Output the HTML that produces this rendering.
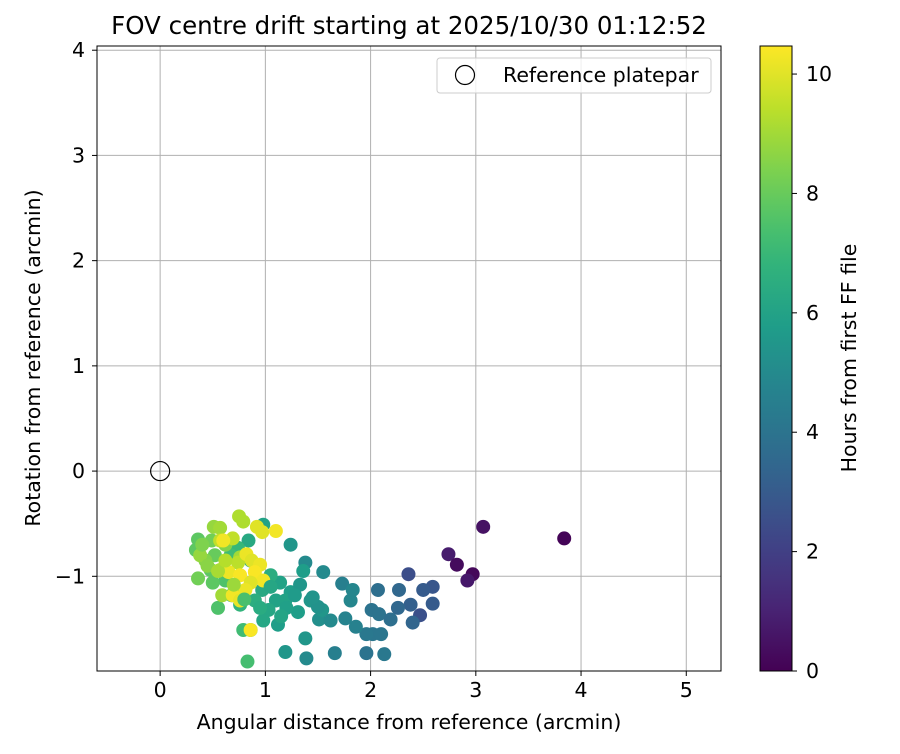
<!DOCTYPE html>
<html><head><meta charset="utf-8"><style>
body{margin:0;background:#fff;font-family:"DejaVu Sans","Liberation Sans",sans-serif}
</style></head><body>
<svg id="c" width="900" height="750" xmlns="http://www.w3.org/2000/svg" font-family="DejaVu Sans, Liberation Sans, sans-serif"></svg>
<script>
const xs=[3.84,3.07,2.74,2.82,2.97,2.92,2.36,2.59,2.50,2.27,2.07,2.59,2.38,2.47,2.26,2.01,2.08,2.19,2.40,2.02,1.96,2.10,1.96,2.13,1.86,1.76,1.81,1.73,1.83,1.66,1.39,1.19,1.38,1.51,1.55,1.24,1.38,1.36,1.54,1.62,1.43,1.50,1.31,1.24,1.14,1.10,1.03,1.19,0.97,1.12,1.33,0.98,1.05,0.90,0.98,0.79,0.86,0.83,0.76,0.86,0.84,0.74,0.67,0.62,0.68,0.55,0.50,0.48,0.36,0.34,0.36,0.52,0.43,0.38,0.49,0.62,0.51,0.57,0.75,0.79,0.57,0.59,0.71,0.76,0.69,0.74,0.57,0.92,0.97,1.10,0.60,0.82,0.87,0.95,0.90,0.98,0.65,0.76,0.69,0.76,0.86,0.86,0.81,1.20,1.28,1.45,1.05,0.95,1.15,0.45,0.40,0.55,0.62,0.70,0.80];
const ys=[-0.64,-0.53,-0.79,-0.89,-0.98,-1.04,-0.98,-1.10,-1.13,-1.13,-1.13,-1.26,-1.27,-1.37,-1.30,-1.32,-1.36,-1.41,-1.44,-1.55,-1.55,-1.55,-1.73,-1.74,-1.48,-1.40,-1.23,-1.07,-1.13,-1.73,-1.78,-1.72,-1.59,-1.41,-0.96,-0.70,-0.87,-0.95,-1.32,-1.42,-1.23,-1.29,-1.34,-1.15,-1.06,-1.23,-1.32,-1.23,-1.13,-1.46,-1.08,-0.51,-0.99,-1.23,-1.42,-1.51,-1.51,-1.81,-1.27,-0.85,-0.66,-0.73,-0.80,-1.04,-1.18,-1.30,-1.06,-0.94,-0.65,-0.75,-1.02,-0.80,-0.85,-0.80,-0.66,-0.70,-0.53,-0.54,-0.43,-0.48,-0.94,-1.18,-1.13,-0.82,-0.64,-0.87,-0.66,-0.53,-0.58,-0.57,-0.66,-0.79,-0.85,-0.89,-0.96,-1.04,-0.96,-0.99,-1.18,-1.23,-1.06,-1.51,-1.13,-1.30,-1.18,-1.20,-1.10,-1.30,-1.38,-0.90,-0.70,-0.95,-0.85,-1.08,-1.22];
const hours=[0.1,0.5,0.8,0.3,0.2,0.7,2.5,2.8,3,3.5,3.8,3,3.2,2.6,3.5,4,4,3.8,3.4,4.1,4.2,4.1,4,4.2,4.6,4.7,4.8,4.5,4.8,4.5,5,5.5,5.5,5.2,5,5.5,5,5.8,5.5,5,5.5,5.3,5.8,5.8,6,6,6.2,6,6.3,5.8,5.5,6,6.5,6.5,6.2,7.2,6.8,7.3,6.8,6.5,6.3,7,7.2,7.5,7,7.5,7.8,7.8,7.8,7.8,8.2,8,8.5,8.8,8.2,8.5,8.8,9,9.2,9.2,9,9,8.8,9,9.5,9.4,9.5,10,10,10.3,10.3,10.2,10,10.2,10.4,10.3,10.2,10.4,10.3,10.1,10,10.4,10.2,5.9,5.7,5.4,6.2,6.4,6.1,8.6,8.4,9.1,9.3,8.9,7.4];
const xTicks=[0,1,2,3,4,5], yTicks=[-1,0,1,2,3,4], cTicks=[0,2,4,6,8,10];
const L=97,R=721,T=46,B=671,X0=-0.6,X1=5.33,Y0=-1.9,Y1=4.04,C1=10.47;
const sx=v=>L+(v-X0)/(X1-X0)*(R-L), sy=v=>B-(v-Y0)/(Y1-Y0)*(B-T), sc=v=>B-v/C1*(B-T);
const V=[[68,1,84],[72,40,120],[62,73,137],[49,104,142],[38,130,142],[31,158,137],[53,183,121],[110,206,88],[181,222,43],[253,231,37]];
function vir(t){t=Math.max(0,Math.min(1,t))*9;const i=Math.min(8,Math.floor(t)),f=t-i;return 'rgb('+V[i].map((c,k)=>Math.round(c+(V[i+1][k]-c)*f)).join(',')+')';}
const svg=document.getElementById('c'),NS='http://www.w3.org/2000/svg';
function el(tag,at,txt){const e=document.createElementNS(NS,tag);for(const k in at)e.setAttribute(k,at[k]);if(txt!==undefined)e.textContent=txt;svg.appendChild(e);return e;}
const FS=20.5;
let e;
e=el('rect',{x:L,y:T,width:R-L,height:B-T,fill:'#fff'});

xTicks.forEach(t=>{const x=sx(t);
e=el('line',{x1:x,x2:x,y1:T,y2:B,stroke:'#b0b0b0','stroke-width':1});
e=el('line',{x1:x,x2:x,y1:B,y2:B+5,stroke:'#000'});
e=el('text',{x:x,y:B+26,'font-size':FS,'text-anchor':'middle'},String(t));});
yTicks.forEach(t=>{const y=sy(t);
e=el('line',{x1:L,x2:R,y1:y,y2:y,stroke:'#b0b0b0','stroke-width':1});
e=el('line',{x1:L-5,x2:L,y1:y,y2:y,stroke:'#000'});
e=el('text',{x:L-12,y:y+7,'font-size':FS,'text-anchor':'end'},t<0?'\u2212'+(-t):String(t));});
xs.forEach((v,i)=>{e=el('circle',{cx:sx(v),cy:sy(ys[i]),r:7,fill:vir(hours[i]/C1)});});
e=el('circle',{cx:sx(0),cy:sy(0),r:9.5,fill:'none',stroke:'#000','stroke-width':1.2});
e=el('rect',{x:L,y:T,width:R-L,height:B-T,fill:'none',stroke:'#000','stroke-width':1});
e=el('rect',{x:437,y:58,width:274,height:35,rx:3,fill:'#fff','fill-opacity':0.8,stroke:'#ccc'});
e=el('circle',{cx:465,cy:75,r:9.5,fill:'none',stroke:'#000','stroke-width':1.2});
e=el('text',{x:503,y:82,'font-size':FS},'Reference platepar');
e=el('text',{x:409,y:34,'font-size':24.5,'text-anchor':'middle'},'FOV centre drift starting at 2025/10/30 01:12:52');
e=el('text',{x:409,y:729,'font-size':FS,'text-anchor':'middle'},'Angular distance from reference (arcmin)');
e=el('text',{x:40,y:358,'font-size':FS,'text-anchor':'middle',transform:'rotate(-90 40 358)'},'Rotation from reference (arcmin)');
const defs=el('defs',{});const g=document.createElementNS(NS,'linearGradient');g.setAttribute('id','vg');g.setAttribute('x1','0');g.setAttribute('y1','1');g.setAttribute('x2','0');g.setAttribute('y2','0');
for(let i=0;i<=20;i++){const s=document.createElementNS(NS,'stop');s.setAttribute('offset',i/20);s.setAttribute('stop-color',vir(i/20));g.appendChild(s);}defs.appendChild(g);
e=el('rect',{x:760,y:T,width:32,height:B-T,fill:'url(#vg)',stroke:'#000','stroke-width':1});
cTicks.forEach(t=>{const y=sc(t);
e=el('line',{x1:792,x2:797,y1:y,y2:y,stroke:'#000'});
e=el('text',{x:806,y:y+7,'font-size':FS},String(t));});
e=el('text',{x:856,y:358,'font-size':FS,'text-anchor':'middle',transform:'rotate(-90 856 358)'},'Hours from first FF file');
</script>
</body></html>
